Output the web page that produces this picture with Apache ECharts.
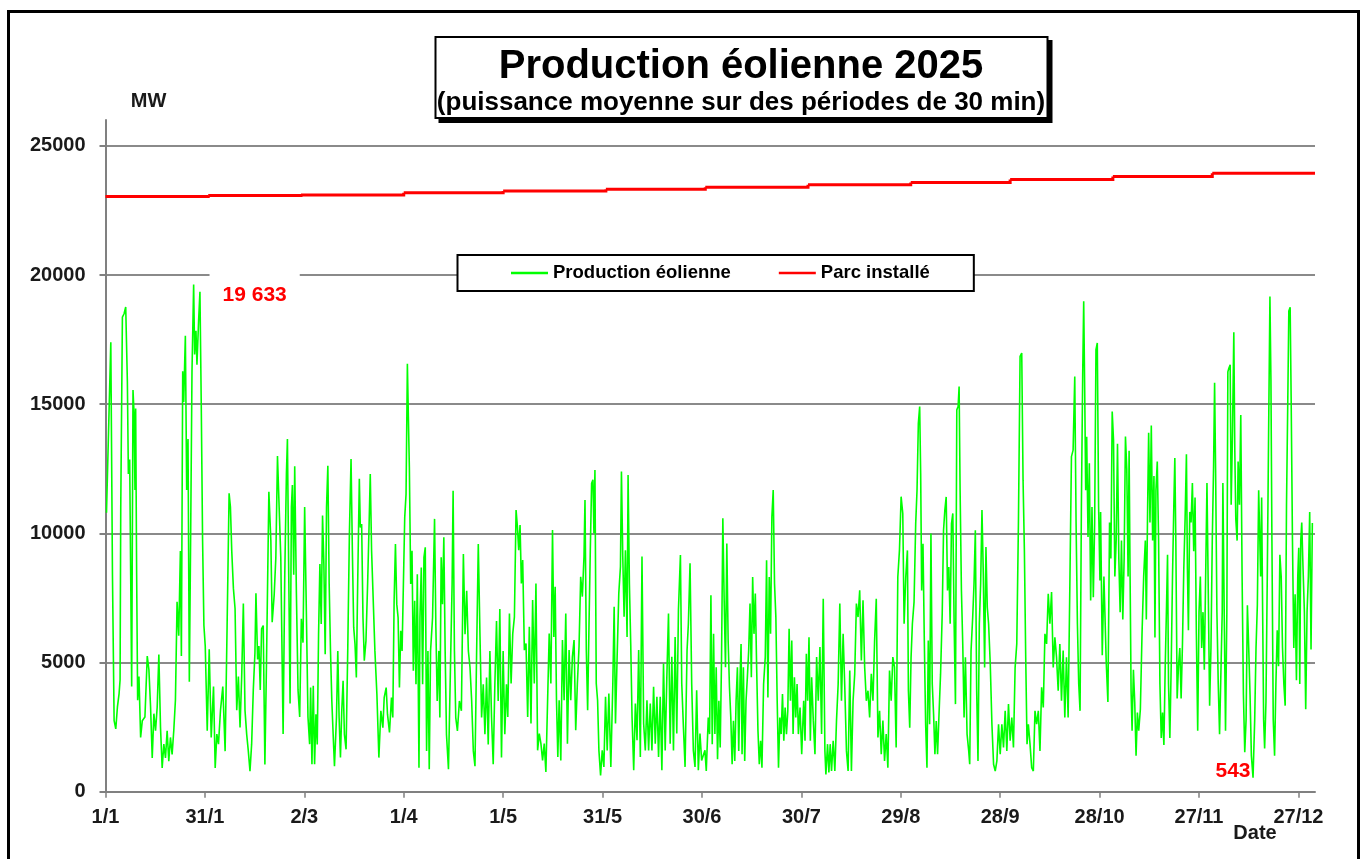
<!DOCTYPE html>
<html><head><meta charset="utf-8">
<script src="https://cdn.jsdelivr.net/npm/echarts@6/dist/echarts.min.js"></script>
<style>html,body{margin:0;padding:0;background:#fff}#c{width:1363px;height:859px}</style>
</head><body><div id="c"></div>
<script>
// ---- axis data ----
const tickDays = [0, 30, 60, 90, 120, 150, 180, 210, 240, 270, 300, 330, 360];
const tickLabels = ['1/1', '31/1', '2/3', '1/4', '1/5', '31/5', '30/6', '30/7', '29/8', '28/9', '28/10', '27/11', '27/12'];
const yTicks = [0, 5000, 10000, 15000, 20000, 25000];
const lastDay = 365;

// ---- installed capacity (MW), changes at month starts ----
const monthStartDays = [0, 31, 59, 90, 120, 151, 181, 212, 243, 273, 304, 334];
const installedMW = [23040, 23080, 23100, 23180, 23250, 23320, 23400, 23490, 23580, 23700, 23810, 23940];

// ---- wind production [day of year, MW] ----
const windPart1 = [[0.3,10800],[1.6,17400],[2.1,8400],[2.6,2750],[3.1,2430],[3.6,3280],[4.1,3800],[4.4,4330],[4.6,11000],[5.1,18370],[5.6,18500],[6.1,18760],[6.6,15870],[6.9,12300],[7.3,12860],[7.6,8400],[7.9,4070],[8.3,15550],[8.6,14700],[8.9,11680],[9.1,14830],[9.4,8400],[9.7,3540],[10.1,4460],[10.6,2100],[11.1,2750],[11.9,2890],[12.6,5250],[13.1,4720],[13.6,3280],[14.1,1310],[14.6,3020],[15.1,2360],[15.6,3280],[16.1,5310],[16.6,2490],[17.1,920],[17.6,1840],[18.1,1310],[18.6,2360],[19.1,1180],[19.6,2100],[20.1,1440],[20.6,2360],[21.1,3540],[21.6,7350],[22.1,6040],[22.6,9320],[22.9,5250],[23.3,16270],[23.6,15090],[24.1,17650],[24.5,11680],[24.9,13650],[25.3,4260],[25.7,9970],[26.1,16270],[26.6,19633],[26.9,16920],[27.3,17840],[27.6,16530],[28.1,18240],[28.5,19350],[28.9,14960],[29.3,9710],[29.7,6430],[30.1,5640],[30.7,2360],[31.3,5510],[31.9,2100],[32.6,4070],[33.1,920],[33.6,2230],[34.1,1840],[34.7,3150],[35.4,4070],[36.1,1570],[36.7,6430],[37.3,11550],[37.7,11020],[38.1,9320],[38.6,7870],[39.1,7080],[39.6,3150],[40.1,4460],[40.6,2490],[41.1,4460],[41.6,7280],[42.1,3150],[42.6,2230],[43.1,1570],[43.6,790],[44.1,1840],[44.6,3940],[45.1,5380],[45.4,7680],[45.9,5120],[46.3,5640],[46.7,3940],[47.1,6300],[47.6,6430],[48.1,1050],[48.6,5120],[49.3,11610],[49.9,9710],[50.3,6560],[50.9,7610],[51.4,9050],[51.9,12990],[52.3,13050],[52.9,9050],[53.6,2230],[54.1,8400],[54.6,12330],[54.9,13650],[55.3,8400],[55.7,3410],[56.1,11020],[56.4,11870],[56.8,8400],[57.1,12600],[57.6,7740],[58.1,3940],[58.6,2890],[59.1,6690],[59.6,5770],[60.1,11020],[60.6,7080],[61.1,2890],[61.6,1840]];
const windPart2 = [[61.9,4030],[62.3,1060],[62.7,4100],[63.1,1060],[63.5,3000],[63.9,1830],[64.3,6100],[64.7,8810],[65.1,6490],[65.5,10690],[65.9,8810],[66.3,5320],[66.7,11010],[67.1,12620],[67.5,8040],[67.9,5450],[68.3,3510],[68.7,2220],[69.1,990],[69.7,2870],[70.1,5450],[70.5,2870],[70.9,1320],[71.3,3130],[71.7,4290],[72.1,2220],[72.6,1640],[73.1,5450],[73.6,9970],[74.1,12880],[74.5,9330],[74.9,6360],[75.3,5710],[75.7,4420],[76.1,8040],[76.6,12110],[76.9,10230],[77.3,10360],[77.7,6740],[78.1,5070],[78.6,5840],[79.1,8040],[79.6,10620],[79.9,12300],[80.3,9330],[80.7,7780],[81.3,5450],[81.9,3770],[82.5,1320],[83.1,3130],[83.7,2480],[84.1,3640],[84.7,4030],[85.1,3000],[85.7,2290],[86.3,3640],[86.7,2870],[87.1,7390],[87.5,9590],[87.9,7260],[88.3,6740],[88.7,4030],[89.1,6230],[89.5,5450],[89.9,8040],[90.3,10620],[90.7,11520],[91.1,16560],[91.4,14500],[91.7,12560],[92.1,8040],[92.5,9330],[92.9,4680],[93.3,7390],[93.7,4160],[94.1,8420],[94.6,930],[94.9,6740],[95.3,8680],[95.7,4160],[96.1,9070],[96.5,9460],[96.9,1580],[97.3,5450],[97.7,870],[98.1,5450],[98.7,6740],[99.3,10560],[99.7,6360],[100.1,3510],[100.6,5450],[100.9,2870],[101.3,9070],[101.7,7260],[102.1,9850],[102.5,5450],[102.9,2220],[103.5,870],[104.1,4810],[104.6,8040],[104.9,11650],[105.3,5450],[105.7,2870],[106.2,2350],[106.8,3510],[107.4,3130],[108.0,9200],[108.5,6100],[109.0,7780],[109.5,5450],[110.0,4810],[110.5,3510],[111.0,1580],[111.5,990],[112.0,5450],[112.5,9590],[113.0,6100],[113.5,2870],[114.0,4160],[114.5,2220],[115.0,4420],[115.5,1830],[116.0,5450],[116.5,2870],[117.0,1060],[117.5,4160],[118.0,6610],[118.5,3510],[119.0,7070],[119.5,1320],[120.0,5450],[120.5,2220],[121.0,4160]];
const windPart3 = [[121.4,2890],[121.9,6900],[122.4,4190],[122.9,6120],[123.4,6770],[123.9,10900],[124.3,10260],[124.7,9350],[125.1,10320],[125.5,8060],[125.9,8970],[126.4,5480],[126.9,5740],[127.4,2890],[127.9,6380],[128.4,2640],[128.9,7420],[129.4,4190],[129.9,8060],[130.4,1600],[130.9,2250],[131.4,1860],[131.9,1210],[132.4,1860],[132.9,760],[133.4,760],[133.9,6120],[134.4,4190],[134.9,10130],[135.3,5990],[135.7,7930],[136.1,3540],[136.5,1340],[136.9,3540],[137.4,1210],[137.9,5870],[138.4,3540],[138.9,6900],[139.4,1860],[139.9,5480],[140.4,3540],[140.9,5220],[141.4,5870],[141.9,2380],[142.4,4190],[142.9,5610],[143.4,8320],[143.9,7550],[144.4,9100],[144.7,11290],[145.1,5480],[145.5,3150],[145.9,6380],[146.3,9350],[146.7,11940],[147.1,12070],[147.4,10000],[147.7,12450],[148.1,4190],[148.5,3540],[148.9,1600],[149.4,630],[149.9,1600],[150.4,960],[150.9,3670],[151.4,1600],[151.9,3800],[152.5,960],[153.1,4190],[153.5,7160],[153.9,2640],[154.4,5220],[154.9,7680],[155.4,8710],[155.7,12390],[156.1,9100],[156.5,6770],[156.9,9350],[157.4,5990],[157.7,12260],[158.1,8060],[158.5,5740],[158.9,2890],[159.4,830],[159.9,3410],[160.4,1990],[160.9,5480],[161.4,1340],[161.9,9100],[162.4,2640],[162.9,1600],[163.4,3540],[163.9,1600],[164.4,3410],[164.9,1600],[165.4,4060],[165.9,1860],[166.4,3670],[166.9,1340],[167.4,3670],[167.9,830],[168.4,4960],[168.9,1600],[169.4,4440],[169.9,6900],[170.4,1860],[170.9,5220],[171.4,1600],[171.9,5990],[172.4,2250],[172.9,7030],[173.5,9160],[173.9,4190],[174.4,2510],[174.9,960],[175.5,5480],[175.9,6510],[176.4,8840],[176.9,4190],[177.4,1600],[177.9,960],[178.4,3930],[178.9,830],[179.4,2250],[179.9,1210],[180.9,1600]];
const windPart4 = [[181.3,800],[181.9,2870],[182.3,2230],[182.7,7600],[183.1,1840],[183.5,6110],[183.9,2230],[184.3,4820],[184.7,1260],[185.1,3520],[185.5,1710],[185.9,5080],[186.3,10580],[186.7,7410],[187.1,4820],[187.5,9610],[187.9,5850],[188.3,4040],[188.7,2870],[189.1,1060],[189.5,2750],[189.9,1190],[190.3,3520],[190.7,4820],[191.1,1580],[191.5,4430],[191.8,5720],[192.1,1450],[192.5,4820],[192.9,1190],[193.3,3520],[193.7,4430],[194.1,5470],[194.5,7280],[194.9,4430],[195.3,8310],[195.7,6110],[196.1,7670],[196.5,4820],[196.9,2360],[197.3,1060],[197.7,1970],[198.1,930],[198.6,4170],[199.1,5210],[199.5,8960],[199.9,3650],[200.3,8310],[200.7,6110],[201.1,10640],[201.5,11680],[201.9,8050],[202.3,6760],[202.7,3520],[203.1,930],[203.5,2870],[203.9,2230],[204.3,3780],[204.7,1970],[205.1,3260],[205.5,2230],[205.9,3130],[206.3,6310],[206.7,3520],[207.1,5850],[207.5,2230],[207.9,4430],[208.3,2870],[208.7,4170],[209.1,2230],[209.6,3260],[210.1,1450],[210.7,3520],[211.1,1970],[211.5,5340],[211.9,3520],[212.3,5980],[212.7,1970],[213.1,4430],[213.6,2750],[214.1,1450],[214.6,5210],[215.1,3520],[215.6,5600],[216.1,2230],[216.6,7470],[217.1,1580],[217.4,670],[217.9,1840],[218.3,740],[218.7,1840],[219.1,800],[219.6,1970],[220.1,800],[220.6,2750],[221.1,4170],[221.6,7280],[222.1,3520],[222.6,6110],[223.1,4040],[223.6,1580],[224.1,800],[224.6,4690],[225.1,800],[225.6,3520],[226.1,4560],[226.6,7280],[227.1,6760],[227.6,7800],[228.1,5080],[228.6,7410],[229.1,4820],[229.6,3520],[230.1,3910],[230.6,2870],[231.1,4560],[231.6,3520],[232.1,5850],[232.6,7470],[233.1,2100],[233.6,3130],[234.1,1450],[234.6,2750],[235.1,1190],[235.6,2230],[236.1,930],[236.6,4690],[237.1,3520],[237.6,5210],[238.1,4820],[238.6,1710],[239.1,8310],[239.6,9350],[240.1,11420],[240.6,10770]];
const windPart5 = [[241.0,6500],[241.5,8310],[242.0,9340],[242.3,3910],[242.7,2480],[243.1,5200],[243.5,6500],[244.0,7340],[244.5,10380],[244.9,11670],[245.3,14260],[245.7,14910],[246.0,12320],[246.3,7790],[246.7,9600],[247.1,5850],[247.5,2610],[247.9,930],[248.3,5850],[248.7,2610],[249.1,9990],[249.5,4170],[249.9,3000],[250.3,1450],[250.7,2740],[251.1,1450],[251.5,2870],[252.0,4550],[252.5,6880],[252.9,10120],[253.3,10900],[253.7,11410],[254.1,7790],[254.5,8700],[254.9,6500],[255.3,10380],[255.7,10770],[256.1,6500],[256.5,3390],[256.9,14780],[257.3,14910],[257.6,15680],[257.9,11670],[258.3,7790],[258.7,5720],[259.1,2870],[259.5,5200],[260.0,2230],[260.5,1580],[260.8,1060],[261.2,5460],[261.7,6750],[262.1,8050],[262.5,10120],[262.9,3910],[263.3,1190],[263.7,6500],[264.1,8050],[264.5,10900],[264.9,8440],[265.3,4810],[265.7,9470],[266.1,7140],[266.5,6500],[267.0,4940],[267.5,2610],[268.0,1060],[268.5,800],[269.0,1190],[269.5,2610],[270.0,1450],[270.5,2610],[271.0,1710],[271.5,3130],[272.0,1580],[272.5,3390],[273.0,1970],[273.5,2870],[274.0,1710],[274.5,4810],[275.0,5720],[275.5,10380],[276.0,16850],[276.5,16980],[276.9,12060],[277.3,9340],[277.7,5200],[278.1,1840],[278.5,2610],[279.0,1840],[279.5,930],[280.0,800],[280.5,3130],[281.0,2610],[281.5,3130],[282.0,1580],[282.5,4040],[283.0,3260],[283.5,6110],[284.0,5720],[284.5,7660],[285.0,6500],[285.5,7730],[286.0,4810],[286.5,5980],[287.0,5200],[287.5,3910],[288.0,5720],[288.5,3520],[289.0,5460],[289.5,2870],[290.0,5200],[290.5,2870],[291.0,7790],[291.5,12970],[292.0,13220],[292.5,16070],[292.9,10380],[293.3,6500],[293.7,4170],[294.1,3130],[294.5,11020],[294.9,16200],[295.2,18980],[295.5,15550],[295.8,11670],[296.1,13740],[296.5,9860],[296.9,12710],[297.3,7400],[297.7,11020],[298.1,7530],[298.5,10380],[298.9,17110],[299.3,17370],[299.7,11020],[300.1,8180]];
const windPart6 = [[300.3,10830],[300.8,5280],[301.3,8330],[302.0,5000],[302.5,3470],[303.0,10420],[303.4,9030],[303.8,14720],[304.2,13610],[304.6,8330],[305.0,9720],[305.4,13470],[305.8,9030],[306.2,6950],[306.6,9720],[307.0,6670],[307.4,9030],[307.8,13750],[308.2,12500],[308.6,8330],[308.9,13200],[309.2,8330],[309.5,3890],[309.8,2360],[310.2,4720],[310.6,3470],[311.0,1390],[311.4,3060],[311.8,2360],[312.3,3190],[312.8,6110],[313.3,8330],[313.8,9720],[314.1,6670],[314.5,11110],[314.8,13890],[315.2,10420],[315.6,14170],[316.0,9720],[316.4,12220],[316.7,5970],[317.0,11670],[317.4,12780],[317.8,9720],[318.2,4170],[318.6,2080],[319.0,3060],[319.4,1810],[319.8,4860],[320.2,7220],[320.5,9170],[320.8,4170],[321.2,2080],[321.6,4860],[322.0,8330],[322.4,11110],[322.7,12920],[323.0,9720],[323.4,3610],[323.8,4860],[324.2,5560],[324.6,3610],[325.0,5690],[325.4,8610],[325.8,10560],[326.2,13060],[326.5,8610],[326.8,6250],[327.2,10830],[327.6,10420],[328.0,11950],[328.4,9310],[328.8,11390],[329.2,6110],[329.6,2360],[330.0,6950],[330.4,8330],[330.8,5560],[331.2,6950],[331.6,4720],[332.0,8330],[332.4,11950],[332.8,7640],[333.2,3330],[333.6,5560],[334.0,9720],[334.4,12640],[334.7,15830],[335.0,12500],[335.4,6950],[335.8,4170],[336.2,2220],[336.6,2220],[337.0,6950],[337.2,11950],[337.6,6950],[338.0,2360],[338.4,6950],[338.7,16250],[339.0,16390],[339.4,16530],[339.7,11110],[340.1,13890],[340.5,17780],[340.8,13200],[341.1,10560],[341.5,9720],[341.8,12780],[342.2,11110],[342.6,14580],[343.0,8330],[343.4,3750],[343.8,1530],[344.2,2780],[344.6,7220],[345.0,5560],[345.4,3750],[345.8,1390],[346.3,543],[346.8,2780],[347.2,5560],[347.6,7220],[348.0,11670],[348.3,11670],[348.6,8330],[348.9,11390],[349.2,6950],[349.5,2780],[349.8,1670],[350.2,3470],[350.6,8330],[351.0,13890],[351.4,19170],[351.7,15970],[352.0,9720],[352.4,2780],[352.8,1390],[353.2,4170],[353.6,6250],[354.0,4860],[354.4,9170],[354.8,8330],[355.2,5560],[355.6,4170],[356.0,3330],[356.4,11110],[356.8,15280],[357.1,18610],[357.5,18750],[357.8,15280],[358.2,9720],[358.6,5560],[359.0,7640],[359.4,4310],[359.8,8330],[360.1,9440],[360.4,4170],[360.7,9720],[361.0,10420],[361.4,8610],[361.8,6950],[362.2,3190],[362.6,6950],[363.0,8330],[363.4,10830],[363.8,5500],[364.2,10400]];

// ---- build ----
const FONT = '"Liberation Sans", Arial, Helvetica, sans-serif';
const production = [].concat(windPart1, windPart2, windPart3, windPart4, windPart5, windPart6);
// one item per month: [start day, end day, installed MW]
const installed = monthStartDays.map((d, i) => [d, i + 1 < monthStartDays.length ? monthStartDays[i + 1] : lastDay, installedMW[i]]);
const fmtMW = v => String(Math.round(v)).replace(/\B(?=(\d{3})+(?!\d))/g, ' ');

const chart = echarts.init(document.getElementById('c'), null, {renderer: 'canvas'});
chart.setOption({
  animation: false,
  backgroundColor: '#ffffff',
  textStyle: {fontFamily: FONT},
  grid: {left: 105.5, right: 48, top: 120, bottom: 67.3, containLabel: false, outerBoundsMode: 'none'},
  legend: {
    left: 457.5, top: 255,
    data: ['Production éolienne', 'Parc installé'],
    icon: 'rect', itemWidth: 37, itemHeight: 2.5, itemGap: 48,
    padding: [8.5, 44, 8.5, 53.5],
    backgroundColor: '#ffffff', borderColor: '#000000', borderWidth: 2,
    textStyle: {fontFamily: FONT, fontWeight: 'bold', fontSize: 18.5, color: '#000'},
    selectedMode: false
  },
  xAxis: {
    type: 'value', min: 0, max: lastDay, interval: 30,
    axisLine: {show: true, onZero: false, lineStyle: {color: '#808080', width: 2}},
    axisTick: {show: true, length: 6, customValues: tickDays, lineStyle: {color: '#808080', width: 1.5}},
    axisLabel: {customValues: tickDays, formatter: v => tickLabels[Math.round(v / 30)] || '',
      fontFamily: FONT, fontSize: 20, fontWeight: 'bold', color: '#1a1a1a', margin: 16},
    splitLine: {show: false}
  },
  yAxis: {
    type: 'value', min: 0, max: 26000, interval: 5000,
    axisLine: {show: true, lineStyle: {color: '#808080', width: 2}},
    axisTick: {show: true, length: 6, customValues: yTicks, lineStyle: {color: '#808080', width: 2}},
    axisLabel: {customValues: yTicks, formatter: v => String(v), fontFamily: FONT, fontSize: 20, fontWeight: 'bold', color: '#1a1a1a', margin: 20},
    splitLine: {show: true, lineStyle: {color: '#8a8a8a', width: 2}}
  },
  series: [
    {
      name: 'Production éolienne', type: 'line', data: production,
      showSymbol: false, symbol: 'none', sampling: null, z: 3,
      lineStyle: {color: '#00ff00', width: 1.6}, itemStyle: {color: '#00ff00'},
      markPoint: {
        symbol: 'circle', symbolSize: 0, silent: true, animation: false,
        label: {show: true, position: 'inside', color: '#ff0000', fontFamily: FONT, fontWeight: 'bold', fontSize: 21,
          formatter: p => fmtMW(p.value)},
        data: [
          {type: 'max', label: {offset: [61, 11], backgroundColor: '#ffffff', padding: [20, 13, 6, 13]}},
          {type: 'min', label: {offset: [-20, -6]}}
        ]
      }
    },
    {
      name: 'Parc installé', type: 'custom', data: installed, z: 2,
      encode: {x: [0, 1], y: 2},
      itemStyle: {color: '#ff0000'},
      renderItem: (params, api) => {
        const i = params.dataIndex;
        const pts = [api.coord([api.value(0), api.value(2)]), api.coord([api.value(1), api.value(2)])];
        if (i + 1 < installedMW.length) pts.push(api.coord([api.value(1), installedMW[i + 1]]));
        return {type: 'polyline', shape: {points: pts}, style: {stroke: '#ff0000', lineWidth: 3, fill: null}};
      }
    }
  ],
  graphic: [
    {type: 'rect', silent: true, z: 100, shape: {x: 8.5, y: 11.5, width: 1350, height: 880},
      style: {fill: 'none', stroke: '#000', lineWidth: 3}},
    {type: 'rect', silent: true, z: 100, shape: {x: 439.5, y: 41, width: 612, height: 81},
      style: {fill: '#000', stroke: '#000', lineWidth: 2}},
    {type: 'rect', silent: true, z: 101, shape: {x: 435.5, y: 37, width: 612, height: 81},
      style: {fill: '#fff', stroke: '#000', lineWidth: 2}},
    {type: 'text', silent: true, z: 102, x: 741, y: 66.5,
      style: {text: 'Production éolienne 2025', font: 'bold 40px ' + FONT, fill: '#000', textAlign: 'center', textVerticalAlign: 'middle'}},
    {type: 'text', silent: true, z: 102, x: 741, y: 102.5,
      style: {text: '(puissance moyenne sur des périodes de 30 min)', font: 'bold 26px ' + FONT, fill: '#000', textAlign: 'center', textVerticalAlign: 'middle'}},
    {type: 'text', silent: true, z: 102, x: 148.5, y: 101,
      style: {text: 'MW', font: 'bold 20px ' + FONT, fill: '#1a1a1a', textAlign: 'center', textVerticalAlign: 'middle'}},
    {type: 'text', silent: true, z: 102, x: 1255, y: 833,
      style: {text: 'Date', font: 'bold 20px ' + FONT, fill: '#1a1a1a', textAlign: 'center', textVerticalAlign: 'middle'}}
  ]
});
</script>
</body></html>
